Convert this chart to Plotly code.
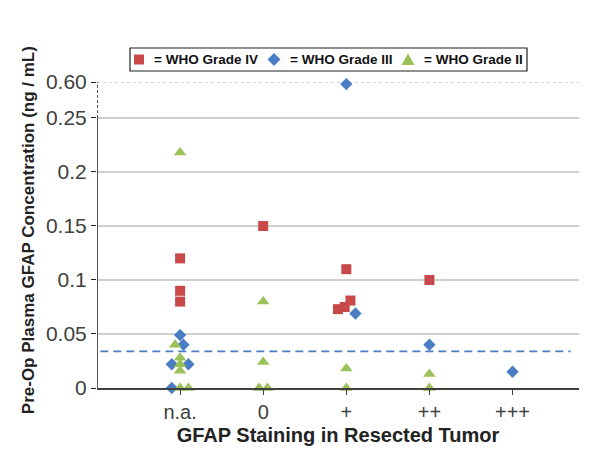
import plotly.graph_objects as go

categories = ["n.a.", "0", "+", "++", "+++"]
y_tick_values = [0, 0.05, 0.1, 0.15, 0.2, 0.25, 0.60]
y_tick_labels = ["0", "0.05", "0.1", "0.15", "0.2", "0.25", "0.60"]
series_names = ["= WHO Grade IV", "= WHO Grade III", "= WHO Grade II"]

# Grade IV (squares)
g4_cat = ["n.a.", "n.a.", "n.a.", "0", "+", "+", "+", "+", "++"]
g4_val = [0.12, 0.09, 0.08, 0.15, 0.11, 0.073, 0.075, 0.081, 0.10]
g4_jit = [0, 0, 0, 0, 0, -0.1, -0.02, 0.05, 0]

# Grade III (diamonds)
g3_cat = ["n.a.", "n.a.", "n.a.", "n.a.", "n.a.", "+", "+", "++", "+++"]
g3_val = [0.049, 0.040, 0.022, 0.022, 0.0, 0.58, 0.069, 0.040, 0.015]
g3_jit = [0, 0.04, -0.1, 0.1, -0.1, 0, 0.11, 0, 0]

# Grade II (triangles)
g2_cat = ["n.a.", "n.a.", "n.a.", "n.a.", "n.a.", "n.a.", "n.a.",
          "0", "0", "0", "0", "+", "+", "++", "++"]
g2_val = [0.218, 0.040, 0.028, 0.022, 0.016, 0.0, 0.0,
          0.08, 0.024, 0.0, 0.0, 0.018, 0.0, 0.013, 0.0]
g2_jit = [0, -0.06, 0, 0, 0, 0, 0.1,
          0, 0, -0.05, 0.05, 0, 0, 0, 0]

threshold = 0.034

BREAK_LOW = 0.25
BREAK_HIGH = 0.60
BREAK_SPAN = 0.0333

COL4 = "#C9494A"
COL3 = "#4A7EC4"
COL2 = "#9BC25A"


def disp(v):
    if v <= BREAK_LOW:
        return v
    return BREAK_LOW + (v - BREAK_LOW) * BREAK_SPAN / (BREAK_HIGH - BREAK_LOW)


def xpos(cats, jit):
    return [categories.index(c) + 1 + j for c, j in zip(cats, jit)]


y_top = disp(BREAK_HIGH)
x_max = 5.8

# plot area geometry in pixels (page has an 8px body offset)
ML, MR, MT, MB = 89, 29, 74, 83
PL, PT = ML + 8, MT + 8
PW, PH = 600 - ML - MR, 463 - MT - MB


def px(xp):
    return (xp - PL) / PW


def py(yp):
    return (PT + PH - yp) / PH


fig = go.Figure()

fig.add_trace(go.Scatter(
    x=xpos(g4_cat, g4_jit), y=[disp(v) for v in g4_val], mode="markers",
    name=series_names[0], cliponaxis=False, showlegend=False,
    marker=dict(symbol="square", size=10, color=COL4)))
fig.add_trace(go.Scatter(
    x=xpos(g3_cat, g3_jit), y=[disp(v) for v in g3_val], mode="markers",
    name=series_names[1], cliponaxis=False, showlegend=False,
    marker=dict(symbol="diamond", size=9.5, color=COL3)))
fig.add_trace(go.Scatter(
    x=xpos(g2_cat, g2_jit), y=[disp(v) for v in g2_val], mode="markers",
    name=series_names[2], cliponaxis=False, showlegend=False,
    marker=dict(symbol="triangle-up", size=11, color=COL2)))

shapes = []
for v in y_tick_values[1:]:
    dv = disp(v)
    shapes.append(dict(type="line", xref="x", yref="y", x0=0, x1=x_max, y0=dv, y1=dv,
                       layer="below",
                       line=dict(color="#BFBFBF" if v <= BREAK_LOW else "#AAAAAA",
                                 width=1.6 if v <= BREAK_LOW else 1,
                                 dash="solid" if v <= BREAK_LOW else "dot")))
# y axis line: solid up to break, dashed above
shapes.append(dict(type="line", xref="x", yref="y", x0=0, x1=0, y0=0, y1=BREAK_LOW,
                   line=dict(color="#202020", width=1.5)))
shapes.append(dict(type="line", xref="x", yref="y", x0=0, x1=0, y0=BREAK_LOW, y1=y_top,
                   line=dict(color="#202020", width=1.5, dash="3px,2px")))
# threshold line
shapes.append(dict(type="line", xref="x", yref="y", x0=0.04, x1=5.7, y0=threshold, y1=threshold,
                   line=dict(color=COL3, width=1.8, dash="8px,5px")))

# custom legend box
shapes.append(dict(type="rect", xref="paper", yref="paper",
                   x0=px(130), x1=px(527), y0=py(71), y1=py(48),
                   line=dict(color="#202020", width=1.2), fillcolor="white"))
ly = py(59.5)
shapes.append(dict(type="rect", xref="paper", yref="paper", xsizemode="pixel", ysizemode="pixel",
                   xanchor=px(139), yanchor=ly, x0=-5, x1=5, y0=-5, y1=5,
                   line=dict(width=0), fillcolor=COL4))
shapes.append(dict(type="path", xref="paper", yref="paper", xsizemode="pixel", ysizemode="pixel",
                   xanchor=px(274), yanchor=ly, path="M 0,-6.5 L 6.5,0 L 0,6.5 L -6.5,0 Z",
                   line=dict(width=0), fillcolor=COL3))
shapes.append(dict(type="path", xref="paper", yref="paper", xsizemode="pixel", ysizemode="pixel",
                   xanchor=px(408), yanchor=ly, path="M -6.5,-5.5 L 6.5,-5.5 L 0,6 Z",
                   line=dict(width=0), fillcolor=COL2))

annotations = [dict(text="<b>Pre-Op Plasma GFAP Concentration (ng / mL)</b>",
                    xref="paper", yref="paper", x=-0.143, y=0.516,
                    xanchor="center", yanchor="middle", textangle=-90, showarrow=False,
                    font=dict(size=17, color="#222222"))]
for name, xt in zip(series_names, [152, 288, 422]):
    annotations.append(dict(text="<b>" + name + "</b>", xref="paper", yref="paper",
                            x=px(xt), y=ly, xanchor="left", yanchor="middle", showarrow=False,
                            font=dict(size=13.5, color="#111111")))

fig.update_layout(
    width=600, height=463,
    margin=dict(l=ML, r=MR, t=MT, b=MB),
    paper_bgcolor="white", plot_bgcolor="white",
    font=dict(family="Liberation Sans, Arial, sans-serif"),
    shapes=shapes,
    annotations=annotations,
    showlegend=False,
    xaxis=dict(range=[0, x_max], tickvals=[1, 2, 3, 4, 5], ticktext=categories,
               showgrid=False, zeroline=False, showline=True, linecolor="#404040", linewidth=1.5,
               ticks="outside", ticklen=5, tickcolor="#404040",
               tickfont=dict(size=20, color="#404040"),
               title=dict(text="<b>GFAP Staining in Resected Tumor</b>",
                          font=dict(size=20, color="#222222"), standoff=6)),
    yaxis=dict(range=[0, y_top], tickvals=[disp(v) for v in y_tick_values], ticktext=y_tick_labels,
               showgrid=False, zeroline=False, showline=False,
               ticks="outside", ticklen=5, tickcolor="#202020",
               tickfont=dict(size=21, color="#404040")),
)

fig.write_html("out.html")
